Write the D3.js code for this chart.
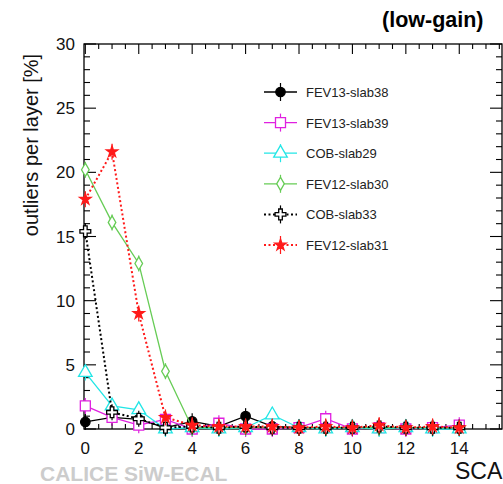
<!DOCTYPE html>
<html>
<head>
<meta charset="utf-8">
<script src="https://cdn.jsdelivr.net/npm/d3@7.9.0/dist/d3.min.js"></script>
<style>
  body { margin: 0; background: #fff; }
  svg { display: block; font-family: "Liberation Sans", Arial, sans-serif; }
</style>
</head>
<body>
<svg width="503" height="484"></svg>
<script>
// SCA index on the x axis
const sca = d3.range(0, 15);

const seriesNames = ['FEV13-slab38', 'FEV13-slab39', 'COB-slab29', 'FEV12-slab30', 'COB-slab33', 'FEV12-slab31'];

const fev13slab38 = [0.55, 0.9, 0.75, 0.1, 0.6, 0.2, 1.0, 0.2, 0.1, 0.1, 0.1, 0.1, 0.1, 0.1, 0.1];
const fev13slab39 = [1.8, 0.9, 0.3, 0.75, 0.0, 0.45, 0.0, 0.0, 0.1, 0.8, 0.0, 0.1, 0.0, 0.1, 0.3];
const cobslab29   = [4.4, 1.8, 1.5, 0.0, 0.1, 0.0, 0.1, 1.1, 0.1, 0.0, 0.1, 0.0, 0.1, 0.0, 0.0];
const fev12slab30 = [20.2, 16.1, 12.9, 4.5, 0.1, 0.1, 0.1, 0.1, 0.1, 0.1, 0.1, 0.1, 0.1, 0.1, 0.1];
const cobslab33   = [15.4, 1.3, 0.8, 0.1, 0.2, 0.1, 0.2, 0.1, 0.1, 0.1, 0.1, 0.2, 0.1, 0.1, 0.1];
const fev12slab31 = [17.9, 21.6, 9.0, 0.9, 0.3, 0.2, 0.2, 0.2, 0.1, 0.2, 0.1, 0.3, 0.1, 0.2, 0.1];

const yTicks = [0, 5, 10, 15, 20, 25, 30];
const xTicks = [0, 2, 4, 6, 8, 10, 12, 14];

const styles = [
  { color: '#000000', symbol: d3.symbolCircle,   fill: true,  dash: null,  size: 70 },
  { color: '#e020e0', symbol: d3.symbolSquare,   fill: false, dash: null,  size: 100 },
  { color: '#22e6e6', symbol: d3.symbolTriangle, fill: false, dash: null,  size: 80 },
  { color: '#66cc55', symbol: d3.symbolDiamond,  fill: false, dash: null,  size: 50 },
  { color: '#000000', symbol: d3.symbolCross,    fill: false, dash: '2,2.5', size: 65 },
  { color: '#ff1a1a', symbol: d3.symbolStar,     fill: true,  dash: '2,2.5', size: 40 }
];

const allSeries = [fev13slab38, fev13slab39, cobslab29, fev12slab30, cobslab33, fev12slab31];

const svg = d3.select('svg');
const m = { left: 84, right: 502, top: 44, bottom: 429 };

const x = d3.scaleLinear().domain([-0.05, 15.6]).range([m.left, m.right]);
const y = d3.scaleLinear().domain([0, 30]).range([m.bottom, m.top]);

// frame
svg.append('rect')
  .attr('x', m.left).attr('y', m.top)
  .attr('width', m.right - m.left).attr('height', m.bottom - m.top)
  .attr('fill', 'none').attr('stroke', '#000').attr('stroke-width', 1.3);

// ticks on all four sides, pointing inward
const ticks = svg.append('g').attr('stroke', '#000').attr('stroke-width', 1.1);
d3.range(0, 15.51, 0.5).forEach(v => {
  const len = v % 2 === 0 ? 10 : 5;
  ticks.append('line').attr('x1', x(v)).attr('x2', x(v)).attr('y1', m.bottom).attr('y2', m.bottom - len);
  ticks.append('line').attr('x1', x(v)).attr('x2', x(v)).attr('y1', m.top).attr('y2', m.top + len);
});
d3.range(0, 30.01, 1).forEach(v => {
  const len = v % 5 === 0 ? 12 : 6;
  ticks.append('line').attr('x1', m.left).attr('x2', m.left + len).attr('y1', y(v)).attr('y2', y(v));
  ticks.append('line').attr('x1', m.right).attr('x2', m.right - len).attr('y1', y(v)).attr('y2', y(v));
});

svg.append('g').selectAll('text').data(yTicks).join('text')
  .attr('x', 75).attr('y', d => y(d) + 6)
  .attr('text-anchor', 'end').attr('font-size', 17).attr('fill', '#111')
  .text(d => d);

svg.append('g').selectAll('text').data(xTicks).join('text')
  .attr('x', d => x(d)).attr('y', 454)
  .attr('text-anchor', 'middle').attr('font-size', 17).attr('fill', '#111')
  .text(d => d);

// series
allSeries.forEach((vals, i) => {
  const st = styles[i];
  const pts = sca.map((s, j) => [s, vals[j]]);
  const g = svg.append('g');
  g.append('path')
    .attr('d', d3.line().x(d => x(d[0])).y(d => y(d[1]))(pts))
    .attr('fill', 'none').attr('stroke', st.color)
    .attr('stroke-width', st.dash ? 2 : 1.3)
    .attr('stroke-dasharray', st.dash);
  g.selectAll('line').data(pts).join('line')
    .attr('x1', d => x(d[0])).attr('x2', d => x(d[0]))
    .attr('y1', d => y(d[1]) - 8).attr('y2', d => y(d[1]) + 8)
    .attr('stroke', st.color).attr('stroke-width', 1.2);
  g.selectAll('path.m').data(pts).join('path')
    .attr('class', 'm')
    .attr('transform', d => `translate(${x(d[0])},${y(d[1])})`)
    .attr('d', d3.symbol().type(st.symbol).size(st.size))
    .attr('fill', st.fill ? st.color : '#fff')
    .attr('stroke', st.color).attr('stroke-width', 1.3);
});

// legend
const legend = svg.append('g');
seriesNames.forEach((name, i) => {
  const st = styles[i];
  const ly = 92 + i * 30.6;
  legend.append('line')
    .attr('x1', 264).attr('x2', 297).attr('y1', ly).attr('y2', ly)
    .attr('stroke', st.color).attr('stroke-width', st.dash ? 2 : 1.3)
    .attr('stroke-dasharray', st.dash);
  legend.append('line')
    .attr('x1', 280.5).attr('x2', 280.5).attr('y1', ly - 9).attr('y2', ly + 9)
    .attr('stroke', st.color).attr('stroke-width', 1.2);
  legend.append('path')
    .attr('transform', `translate(280.5,${ly})`)
    .attr('d', d3.symbol().type(st.symbol).size(st.size))
    .attr('fill', st.fill ? st.color : '#fff')
    .attr('stroke', st.color).attr('stroke-width', 1.3);
  legend.append('text')
    .attr('x', 306).attr('y', ly + 5)
    .attr('font-size', 13).attr('fill', '#222')
    .text(name);
});

// titles
svg.append('text')
  .attr('transform', 'translate(38,145) rotate(-90)')
  .attr('text-anchor', 'middle').attr('font-size', 20).attr('fill', '#111')
  .text('outliers per layer [%]');

svg.append('text')
  .attr('x', 455).attr('y', 479)
  .attr('font-size', 23).attr('fill', '#111')
  .text('SCA');

svg.append('text')
  .attr('x', 382).attr('y', 27)
  .attr('font-size', 21.5).attr('font-weight', 'bold').attr('fill', '#000')
  .text('(low-gain)');

svg.append('text')
  .attr('x', 40).attr('y', 481)
  .attr('font-size', 21).attr('font-weight', 'bold').attr('fill', '#cccccc')
  .text('CALICE SiW-ECAL');
</script>
</body>
</html>
